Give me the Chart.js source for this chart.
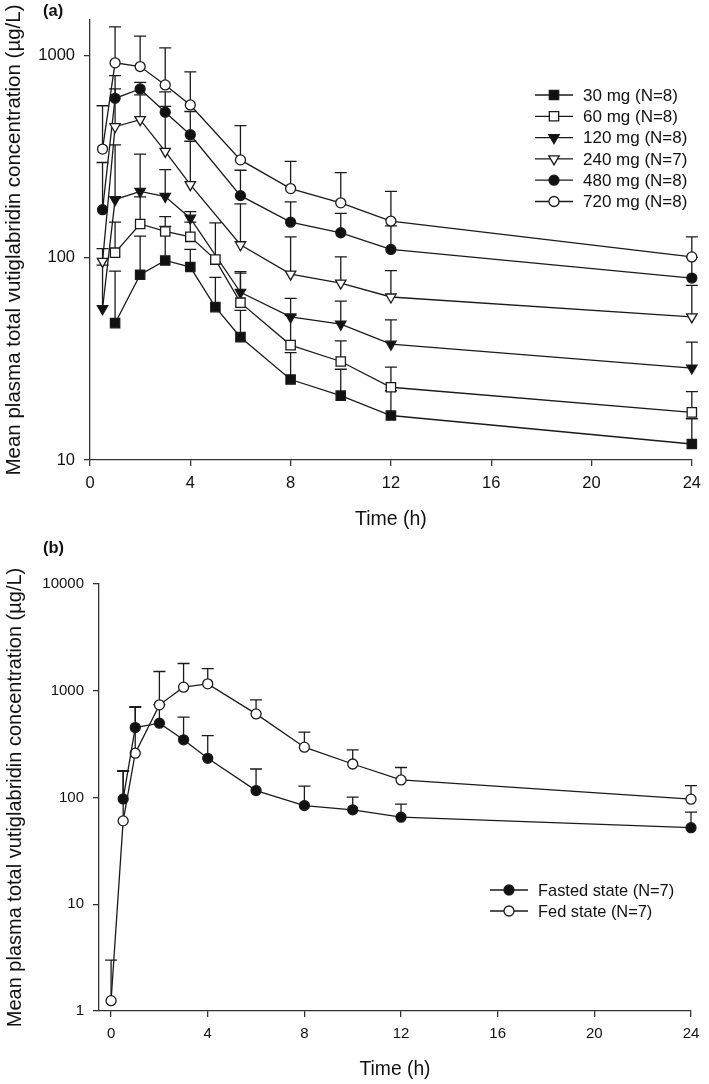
<!DOCTYPE html>
<html>
<head>
<meta charset="utf-8">
<script src="https://cdn.jsdelivr.net/npm/chart.js@4.4.1/dist/chart.umd.min.js"></script>
<style>
  body { margin: 0; background: #fff; }
  #page { position: relative; width: 709px; height: 1084px; font-family: "Liberation Sans", Arial, sans-serif; }
  .panel { position: absolute; left: 0; }
  .tag { position: absolute; font-weight: bold; color: #111; }
</style>
</head>
<body>
<div id="page">
  <div class="panel" style="top:0"><canvas id="chartA" width="709" height="540"></canvas></div>
  <div class="panel" style="top:540px"><canvas id="chartB" width="709" height="544"></canvas></div>
  <div class="tag" style="left:43px;top:1px;font-size:16.5px">(a)</div>
  <div class="tag" style="left:43px;top:538px;font-size:16.5px">(b)</div>
</div>
<script>
// panel (a) - single ascending doses
var timesA = [0.5, 1, 2, 3, 4, 5, 6, 8, 10, 12, 24];
var doseLabels = ['30 mg (N=8)', '60 mg (N=8)', '120 mg (N=8)', '240 mg (N=7)', '480 mg (N=8)', '720 mg (N=8)'];
var mean30  = [null, 47.5, 82.5, 97, 90, 57, 40.5, 25, 20.8, 16.6, 12];
var sd30    = [null, 38.5, 45.5, 46, 20, 23, 14.5, 9, 7.3, 5.4, 4];
var mean60  = [null, 106, 147, 135, 127, 98, 60, 37, 30.7, 22.9, 17.2];
var sd60    = [null, 44, 53, 25, 23, 51, 24, 15, 8.1, 5.9, 4.6];
var mean120 = [56, 194, 213, 201, 157, null, 67.5, 51, 47, 37.4, 28.5];
var sd120   = [36, 168, 113, 72, 12, null, 18, 12, 14, 11.9, 9.8];
var mean240 = [96, 445, 482, 336, 230, null, 116, 83, 75, 64, 51];
var sd240   = [15, 239, 158, 325, 147, null, 69, 44, 26, 22.5, 22];
var mean480 = [173, 615, 684, 525, 406, null, 203, 150, 133, 110, 79.4];
var sd480   = [123, 181, 54, 36, 123, null, 68, 39, 33, 34, 21];
var mean720 = [345, 921, 883, 716, 570, null, 305, 220, 187, 152, 101];
var sd720   = [220, 466, 364, 375, 260, null, 145, 80, 77, 61, 26];
var yTicksA = [10, 100, 1000];

// panel (b) - food effect
var timesB = [0, 0.5, 1, 2, 3, 4, 6, 8, 10, 12, 24];
var foodLabels = ['Fasted state (N=7)', 'Fed state (N=7)'];
var meanFasted = [null, 97, 452, 497, 347, 233, 116, 84, 76.6, 65.4, 52.2];
var sdFasted   = [null, 81, 259, 243, 219, 147, 69, 44, 24.4, 21.1, 20.6];
var meanFed    = [1.25, 60.4, 260, 738, 1081, 1161, 607, 296, 206, 146, 96.5];
var sdFed      = [1.75, 115, 440, 776, 719, 454, 215, 113, 73, 45, 32.5];
var yTicksB = [1, 10, 100, 1000, 10000];

var xTicks = [0, 4, 8, 12, 16, 20, 24];
var yTitle = 'Mean plasma total vutiglabridin concentration (\u00b5g/L)';
var FONT = '"Liberation Sans", Arial, sans-serif';
var INK = '#1a1a1a';

function points(times, means, sds) {
	var out = [];
	for (var i = 0; i < times.length; i++) {
		if (means[i] == null) continue;
		out.push({ x: times[i], y: means[i], sd: sds[i] });
	}
	return out;
}

function series(label, times, means, sds, style, filled, radius, rot) {
	return {
		label: label,
		data: points(times, means, sds),
		borderColor: INK,
		borderWidth: 1.3,
		pointStyle: style,
		pointRotation: rot || 0,
		pointRadius: radius,
		pointBorderWidth: 1.3,
		pointBorderColor: INK,
		pointBackgroundColor: filled ? '#111' : '#fff',
		backgroundColor: filled ? '#111' : '#fff',
		tension: 0,
		fill: false,
		spanGaps: true,
		clip: false
	};
}

// marker shape, same geometry as chart.js point styles
function marker(ctx, ds, x, y) {
	var r = ds.pointRadius, rot = (ds.pointRotation || 0) * Math.PI / 180;
	ctx.beginPath();
	if (ds.pointStyle === 'rect') {
		var s = r * Math.SQRT1_2;
		ctx.rect(x - s, y - s, 2 * s, 2 * s);
	} else if (ds.pointStyle === 'triangle') {
		for (var k = 0; k < 3; k++) {
			var a = rot + k * 2 * Math.PI / 3;
			var px = x + Math.sin(a) * r, py = y - Math.cos(a) * r;
			if (k === 0) ctx.moveTo(px, py); else ctx.lineTo(px, py);
		}
		ctx.closePath();
	} else {
		ctx.arc(x, y, r, 0, Math.PI * 2);
	}
	ctx.fillStyle = ds.pointBackgroundColor;
	ctx.fill();
	ctx.lineWidth = ds.pointBorderWidth;
	ctx.strokeStyle = ds.pointBorderColor;
	ctx.stroke();
}

// upper SD bars, drawn under the lines and markers
var errorBars = {
	id: 'errorBars',
	beforeDatasetsDraw: function(chart) {
		var ctx = chart.ctx, xs = chart.scales.x, ys = chart.scales.y;
		ctx.save();
		ctx.strokeStyle = INK;
		ctx.lineWidth = 1.3;
		chart.data.datasets.forEach(function(ds) {
			ds.data.forEach(function(p) {
				if (p.sd == null) return;
				var px = xs.getPixelForValue(p.x);
				var py = ys.getPixelForValue(p.y);
				var pt = ys.getPixelForValue(p.y + p.sd);
				ctx.beginPath();
				ctx.moveTo(px, py);
				ctx.lineTo(px, pt);
				ctx.moveTo(px - 6, pt);
				ctx.lineTo(px + 6, pt);
				ctx.stroke();
			});
		});
		ctx.restore();
	}
};

// legend inside the plot area
var boxLegend = {
	id: 'boxLegend',
	afterDraw: function(chart, args, opts) {
		var ctx = chart.ctx;
		ctx.save();
		ctx.font = opts.size + 'px ' + FONT;
		ctx.textBaseline = 'middle';
		chart.data.datasets.forEach(function(ds, i) {
			var y = opts.y + i * opts.dy;
			ctx.strokeStyle = INK;
			ctx.lineWidth = 1.3;
			ctx.beginPath();
			ctx.moveTo(opts.x, y);
			ctx.lineTo(opts.x + 38, y);
			ctx.stroke();
			marker(ctx, ds, opts.x + 19, y);
			ctx.fillStyle = '#111';
			ctx.fillText(ds.label, opts.x + 48, y + 1);
		});
		ctx.restore();
	}
};

function makeChart(id, datasets, cfg) {
	var axisLine = { color: '#333', width: 1.3 };
	var ticksGrid = { drawOnChartArea: false, drawTicks: true, tickLength: 6, color: '#333', lineWidth: 1.3 };
	return new Chart(document.getElementById(id), {
		type: 'line',
		data: { datasets: datasets },
		plugins: [errorBars, boxLegend],
		options: {
			responsive: false,
			animation: false,
			events: [],
			layout: { padding: cfg.padding },
			plugins: {
				legend: { display: false },
				tooltip: { enabled: false },
				boxLegend: cfg.legend
			},
			scales: {
				x: {
					type: 'linear',
					min: cfg.xMin, max: 24,
					afterBuildTicks: function(s) { s.ticks = xTicks.map(function(v) { return { value: v }; }); },
					afterFit: function(s) { s.height = cfg.xHeight; },
					ticks: { color: '#111', padding: 8, maxRotation: 0, font: { family: FONT, size: cfg.tickSize } },
					grid: ticksGrid,
					border: axisLine,
					title: { display: true, text: 'Time (h)', color: '#111', padding: { top: 0, bottom: cfg.xTitlePad }, font: { family: FONT, size: cfg.titleSize } }
				},
				y: {
					type: 'logarithmic',
					min: cfg.yTicks[0], max: cfg.yMax,
					afterBuildTicks: function(s) { s.ticks = cfg.yTicks.map(function(v) { return { value: v }; }); },
					afterFit: function(s) { s.width = cfg.yWidth; },
					ticks: { color: '#111', padding: 9, font: { family: FONT, size: cfg.tickSize }, callback: function(v) { return String(v); } },
					grid: ticksGrid,
					border: axisLine,
					title: { display: true, text: yTitle, color: '#111', padding: { top: cfg.yTitlePad, bottom: 0 }, font: { family: FONT, size: cfg.yTitleSize } }
				}
			}
		}
	});
}

makeChart('chartA', [
	series(doseLabels[0], timesA, mean30, sd30, 'rect', true, 6.6),
	series(doseLabels[1], timesA, mean60, sd60, 'rect', false, 6.6),
	series(doseLabels[2], timesA, mean120, sd120, 'triangle', true, 6, 180),
	series(doseLabels[3], timesA, mean240, sd240, 'triangle', false, 6, 180),
	series(doseLabels[4], timesA, mean480, sd480, 'circle', true, 5),
	series(doseLabels[5], timesA, mean720, sd720, 'circle', false, 5)
], {
	padding: { left: 0, right: 11, top: 20, bottom: 0 },
	xMin: 0, yMax: 1500, yTicks: yTicksA,
	yWidth: 90, xHeight: 80,
	tickSize: 16.5, titleSize: 19.5, yTitleSize: 20.5,
	xTitlePad: 9, yTitlePad: 2,
	legend: { x: 535, y: 95, dy: 21.3, size: 17 }
});

makeChart('chartB', [
	series(foodLabels[0], timesB, meanFasted, sdFasted, 'circle', true, 5),
	series(foodLabels[1], timesB, meanFed, sdFed, 'circle', false, 5)
], {
	padding: { left: 0, right: 18, top: 44, bottom: 0 },
	xMin: -0.5, yMax: 10000, yTicks: yTicksB,
	yWidth: 99, xHeight: 73,
	tickSize: 15, titleSize: 19.3, yTitleSize: 20,
	xTitlePad: 3, yTitlePad: 3,
	legend: { x: 490, y: 350, dy: 21, size: 16.4 }
});
</script>
</body>
</html>
